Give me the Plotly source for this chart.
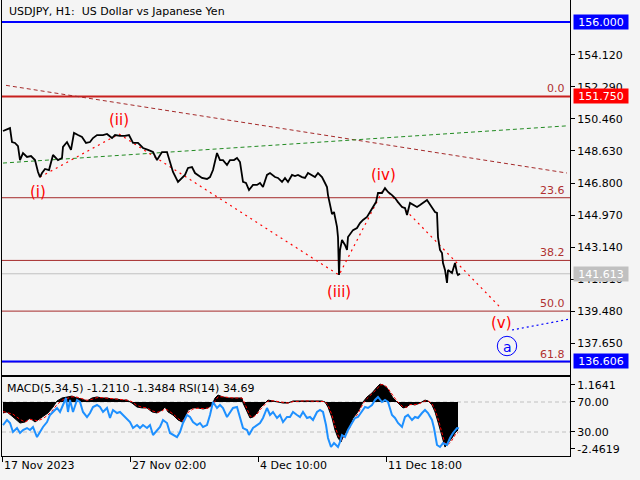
import plotly.graph_objects as go

# ---------------- data ----------------
price_bar = [1,8,10,13,16,18,21,25,29,33,36,38,40,43,47,51,56,60,61,65,69,72,76,80,84,88,91,95,101,105,
             110,113,118,123,127,131,136,141,146,151,155,160,165,168,171,176,180,183,186,190,193,196,200,205,208,
             211,215,218,221,225,228,232,235,238,240,241,244,247,251,255,258,261,265,268,273,276,280,283,286,290,
             293,296,300,303,306,310,313,316,320,323,325,326,328,330,332,335,336,337,338,340,343,345,346,349,351,
             355,358,361,365,368,371,374,376,380,383,386,390,393,396,400,403,405,408,411,415,418,421,425,427,430,
             433,435,436,438,440,441,443,445,446,450,453,455,456,458]
price = [149.77,149.94,149.14,149.09,148.91,148.11,148.51,148.29,148.34,148.11,
         147.43,147.14,147.37,147.60,147.54,148.40,148.11,148.23,148.86,149.14,
         148.69,149.66,149.54,149.43,149.09,149.14,149.37,149.54,149.54,149.60,
         149.37,149.54,149.49,149.49,149.54,149.09,149.09,148.80,148.69,148.57,
         148.11,148.57,148.57,147.94,147.43,146.86,147.09,147.26,147.66,147.71,
         147.37,147.26,147.09,147.03,147.14,147.54,148.51,148.11,148.11,147.83,
         148.11,148.11,148.23,148.00,147.37,146.86,146.80,146.40,146.69,146.69,
         146.80,146.57,147.26,147.37,147.14,147.09,146.86,147.09,146.86,147.26,
         147.20,147.26,147.14,147.09,147.37,147.26,147.14,147.37,147.14,146.80,
         146.57,146.11,145.54,145.03,145.14,144.29,143.71,141.54,142.97,143.54,
         143.26,142.97,143.71,144.00,144.11,144.23,144.51,144.69,144.86,145.14,
         145.43,145.71,146.23,146.23,146.51,146.29,146.11,145.94,145.71,145.43,
         145.37,144.97,145.66,145.54,145.43,145.54,145.66,145.83,145.66,145.37,
         145.14,145.09,143.71,142.97,142.80,142.23,141.83,141.09,141.83,141.66,
         142.23,141.66,141.54,141.61]

macd_bar = [1,5,11,18,23,28,33,36,41,46,51,55,60,65,70,75,80,85,90,95,100,105,110,115,120,125,130,135,140,145,
            150,155,160,163,166,171,176,180,183,186,191,196,201,206,210,213,216,221,226,231,236,240,241,245,248,
            251,255,258,263,266,271,276,281,286,291,296,301,306,311,316,320,323,326,330,333,336,339,341,345,348,
            351,355,358,361,365,370,375,378,381,385,388,391,395,398,401,405,408,413,418,423,426,430,433,436,440,
            443,446,450,453,456]
macd_hist = [-0.63,-0.57,-0.86,-1.21,-1.15,-0.92,-1.15,-1.03,-0.86,-0.63,
             -0.29,0.06,0.23,0.29,0.34,0.23,0.17,0.06,0.23,0.29,
             0.23,0.23,0.17,0.17,0.11,0.11,-0.06,-0.29,-0.34,-0.34,
             -0.57,-0.63,-0.46,-0.29,-0.57,-0.75,-1.03,-1.15,-0.86,-0.46,
             -0.34,-0.34,-0.40,-0.34,-0.17,0.23,0.40,0.29,0.23,0.23,
             0.23,0.23,-0.06,-0.57,-0.92,-0.86,-0.63,-0.34,-0.06,0.11,
             0.06,0.00,-0.06,-0.06,0.06,0.06,0.06,0.06,0.06,0.06,
             0.06,0.00,-0.29,-0.92,-1.61,-2.07,-2.30,-2.01,-1.61,-1.32,
             -0.92,-0.63,-0.34,0.00,0.29,0.52,0.86,1.03,0.98,0.80,
             0.52,0.23,0.00,-0.17,-0.34,-0.29,-0.11,-0.17,-0.06,0.11,
             0.06,-0.17,-0.57,-1.15,-1.90,-2.59,-2.36,-2.07,-1.78,-1.61]
macd_signal = [-0.55,-0.60,-0.70,-1.00,-1.15,-1.00,-1.05,-1.08,-0.95,-0.75,
               -0.45,-0.15,0.10,0.22,0.30,0.28,0.20,0.10,0.15,0.25,
               0.25,0.22,0.20,0.17,0.13,0.11,0.02,-0.20,-0.30,-0.34,
               -0.50,-0.60,-0.52,-0.38,-0.48,-0.68,-0.95,-1.10,-0.95,-0.60,
               -0.40,-0.35,-0.38,-0.35,-0.22,0.05,0.30,0.30,0.25,0.23,
               0.23,0.23,0.15,-0.40,-0.80,-0.88,-0.70,-0.45,-0.15,0.05,
               0.07,0.02,-0.04,-0.06,0.02,0.05,0.06,0.06,0.06,0.06,
               0.06,0.02,-0.18,-0.75,-1.40,-1.90,-2.20,-2.10,-1.75,-1.45,
               -1.05,-0.75,-0.45,-0.10,0.20,0.45,0.75,0.98,1.00,0.86,
               0.60,0.32,0.05,-0.12,-0.28,-0.30,-0.15,-0.15,-0.08,0.06,
               0.07,-0.10,-0.45,-0.95,-1.70,-2.40,-2.45,-2.20,-1.90,-1.75]

rsi_bar = [1,5,8,11,15,18,21,25,28,31,35,38,41,45,48,51,55,58,61,64,66,68,71,75,78,81,85,88,91,95,
           98,101,105,108,111,115,118,121,125,128,131,135,138,141,145,148,151,155,158,161,165,168,171,175,178,
           181,185,188,191,195,198,201,205,208,211,215,218,221,225,228,231,235,238,241,245,247,251,255,258,261,
           265,268,271,275,278,281,285,288,291,295,298,301,305,308,311,315,318,321,324,326,329,332,336,338,340,
           343,346,350,353,356,360,363,366,370,373,376,380,383,386,390,393,396,400,403,406,410,413,416,420,423,
           426,430,432,435,438,441,445,448,451,455,457]
rsi = [39.3,46.0,42.0,30.0,35.3,28.7,32.7,35.3,32.7,36.7,
       23.3,30.0,36.7,43.3,52.7,56.7,62.0,56.7,66.0,75.3,
       56.7,72.7,56.7,72.7,70.0,56.7,50.0,55.3,63.3,66.0,
       63.3,56.7,62.0,48.7,59.3,55.3,56.7,52.7,48.7,43.3,
       35.3,39.3,35.3,39.3,35.3,39.3,26.0,32.7,36.7,46.0,
       42.0,28.7,26.0,23.3,30.0,42.0,52.7,50.0,43.3,39.3,
       42.0,36.7,39.3,52.7,70.0,62.0,66.0,62.0,50.0,56.7,
       62.0,63.3,50.0,35.3,32.7,26.0,35.3,39.3,42.0,48.7,
       62.0,52.7,56.7,48.7,52.7,43.3,50.0,50.0,56.7,52.7,
       50.0,56.7,48.7,50.0,46.0,56.7,59.3,56.7,39.3,22.0,
       10.0,15.3,10.0,16.7,26.0,23.3,32.7,42.0,48.7,50.0,
       56.7,63.3,62.0,66.0,72.7,76.7,70.0,72.7,70.0,52.7,
       48.7,42.0,36.7,50.0,52.7,46.0,50.0,48.7,55.3,59.3,
       55.3,46.0,35.3,12.7,10.0,15.3,12.7,22.0,28.7,35.3,
       34.7]

level_blue_hi = 156.000
level_red = 151.750
level_blue_lo = 136.606
last_price = 141.613
fib_labels = ["0.0", "23.6", "38.2", "50.0", "61.8"]
fib_prices = [151.750, 145.959, 142.376, 139.480, 136.585]
price_ticks = [154.120, 152.290, 150.460, 148.630, 146.800, 144.970, 143.140, 141.310, 139.480, 137.650]
date_ticks = [0, 128, 256, 384]
date_labels = ["17 Nov 2023", "27 Nov 02:00", "4 Dec 10:00", "11 Dec 18:00"]

wave_bar = [38, 117, 337, 382, 498]
wave_price = [147.14, 149.60, 141.54, 146.51, 139.71]
wave_names = ["(i)", "(ii)", "(iii)", "(iv)", "(v)"]
target_bar = [510, 568]
target_price = [138.40, 139.03]
channel_top_bar = [4, 565]
channel_top_price = [152.38, 147.37]
green_bar = [1, 566]
green_price = [147.94, 150.07]

macd_text = "MACD(5,34,5) -1.2110 -1.3484 RSI(14) 34.69"
title_text = "USDJPY, H1:\u00a0 US Dollar vs Japanese Yen"

# ---------------- figure ----------------
FONT = "DejaVu Sans"
BG = "#f4f4f4"
BROWN = "#a52a2a"

fig = go.Figure()

# trend / wave drawings
fig.add_trace(go.Scatter(x=channel_top_bar, y=channel_top_price, mode="lines",
                         line=dict(color=BROWN, width=1, dash="4px,3px"), xaxis="x", yaxis="y"))
fig.add_trace(go.Scatter(x=green_bar, y=green_price, mode="lines",
                         line=dict(color="#228b22", width=1, dash="4px,3px"), xaxis="x", yaxis="y"))
fig.add_trace(go.Scatter(x=wave_bar, y=wave_price, mode="lines",
                         line=dict(color="#ff0000", width=1.2, dash="2px,4px"), xaxis="x", yaxis="y"))
fig.add_trace(go.Scatter(x=target_bar, y=target_price, mode="lines",
                         line=dict(color="#0000ff", width=1.2, dash="2px,3px"), xaxis="x", yaxis="y"))
# price
fig.add_trace(go.Scatter(x=price_bar, y=price, mode="lines",
                         line=dict(color="black", width=1.8), xaxis="x", yaxis="y"))

# MACD histogram + signal
fig.add_trace(go.Scatter(x=macd_bar, y=macd_hist, mode="lines", fill="tozeroy",
                         fillcolor="black", line=dict(color="black", width=1),
                         xaxis="x2", yaxis="y2"))
fig.add_trace(go.Scatter(x=macd_bar, y=macd_signal, mode="lines",
                         line=dict(color="#ff0000", width=1, dash="3px,2px"),
                         xaxis="x2", yaxis="y2"))
# RSI
fig.add_trace(go.Scatter(x=rsi_bar, y=rsi, mode="lines",
                         line=dict(color="#1e90ff", width=2), xaxis="x2", yaxis="y3"))

shapes = []
def hline(y, color, width, yref="y", dash=None):
    shapes.append(dict(type="line", xref="paper", x0=0, x1=1, yref=yref, y0=y, y1=y,
                       line=dict(color=color, width=width, dash=dash), layer="below"))

hline(level_blue_hi, "#0000ff", 2)
for fp in fib_prices[1:]:
    hline(fp, BROWN, 1)
hline(last_price, "#c0c0c0", 1)
hline(level_red, "#c8201e", 2)
hline(level_blue_lo, "#0000ff", 2)
hline(70, "#c0c0c0", 1, yref="y3", dash="4px,3px")
hline(30, "#c0c0c0", 1, yref="y3", dash="4px,3px")

# circled "a"
shapes.append(dict(type="circle", xref="x", yref="y", x0=495.3, x1=514.7, y0=136.93, y1=138.04,
                   line=dict(color="#0000ff", width=1)))

ann = []
ann.append(dict(text=title_text, xref="paper", yref="paper", x=0.0088, y=0.9737,
                xanchor="left", yanchor="middle", showarrow=False,
                font=dict(family=FONT, size=11, color="black")))
ann.append(dict(text=macd_text, xref="paper", yref="paper", x=0.005, y=0.1491,
                xanchor="left", yanchor="middle", showarrow=False,
                font=dict(family=FONT, size=11, color="black")))
for d, lab in zip(date_ticks, date_labels):
    ann.append(dict(text=lab, xref="x2", yref="paper", x=d, y=-0.0219,
                    xanchor="left", yanchor="middle", showarrow=False,
                    font=dict(family=FONT, size=11, color="black")))
for lab, fp in zip(fib_labels, fib_prices):
    ann.append(dict(text=lab, xref="paper", yref="y", x=0.9947, y=fp,
                    xanchor="right", yanchor="bottom", showarrow=False, yshift=-1,
                    font=dict(family=FONT, size=11, color="#b03030")))

# wave labels
wave_label_pos = [(36, 146.29), (116.5, 150.40), (337, 140.57), (381, 147.26), (499, 138.80)]
for name, (bx, py) in zip(wave_names, wave_label_pos):
    ann.append(dict(text=name, xref="x", yref="y", x=bx, y=py, showarrow=False,
                    xanchor="center", yanchor="middle",
                    font=dict(family=FONT, size=15, color="#ff0000")))
ann.append(dict(text="a", xref="x", yref="y", x=505, y=137.45, showarrow=False,
                xanchor="center", yanchor="middle",
                font=dict(family=FONT, size=14, color="#0000ff")))

# price tags on the right axis
def tag(v, bg, txt):
    ann.append(dict(text=txt, xref="paper", yref="y", x=1.0053, y=v,
                    xanchor="left", yanchor="middle", showarrow=False,
                    bgcolor=bg, borderpad=1, width=52, height=12, align="center",
                    font=dict(family=FONT, size=11, color="white")))

tag(level_blue_hi, "#0000ff", f"{level_blue_hi:.3f}")
tag(level_red, "#ff0000", f"{level_red:.3f}")
tag(last_price, "#c0c0c0", f"{last_price:.3f}")
tag(level_blue_lo, "#0000ff", f"{level_blue_lo:.3f}")

axis_common = dict(showgrid=False, zeroline=False, showline=True, mirror=True,
                   linecolor="black", linewidth=1)

fig.update_layout(
    width=640, height=480,
    margin=dict(l=2, r=70, t=0, b=24),
    paper_bgcolor=BG, plot_bgcolor=BG,
    showlegend=False,
    font=dict(family=FONT, size=11, color="black"),
    xaxis=dict(domain=[0, 1], range=[0, 568], anchor="y", showticklabels=False, ticks="",
               **axis_common),
    yaxis=dict(domain=[0.17763, 1], range=[135.829, 157.257], side="right", anchor="x",
               tickvals=price_ticks, ticktext=[f"{t:.3f}" for t in price_ticks],
               ticks="outside", ticklen=4, tickcolor="black",
               tickfont=dict(family=FONT, size=11, color="black"), **axis_common),
    xaxis2=dict(domain=[0, 1], range=[0, 568], anchor="y2", matches="x",
                tickvals=date_ticks, ticktext=["" for _ in date_ticks], ticks="outside",
                ticklen=5, tickcolor="black", **axis_common),
    yaxis2=dict(domain=[0, 0.17325], range=[-3.1034, 1.4368], side="right", anchor="x2",
                tickvals=[0.977, 0.0, -1.724, -2.701],
                ticktext=["1.1641", "70.00", "30.00", "-2.4619"],
                ticks="outside", ticklen=4, tickcolor="black",
                tickfont=dict(family=FONT, size=11, color="black"), **axis_common),
    yaxis3=dict(overlaying="y2", anchor="x2", range=[-2, 103.33], visible=False,
                showgrid=False, zeroline=False),
    shapes=shapes,
    annotations=ann,
)

fig.write_html("out.html",
               config={"displayModeBar": False},
               post_script="document.body.style.margin='0px';document.body.style.background='#f4f4f4';")
